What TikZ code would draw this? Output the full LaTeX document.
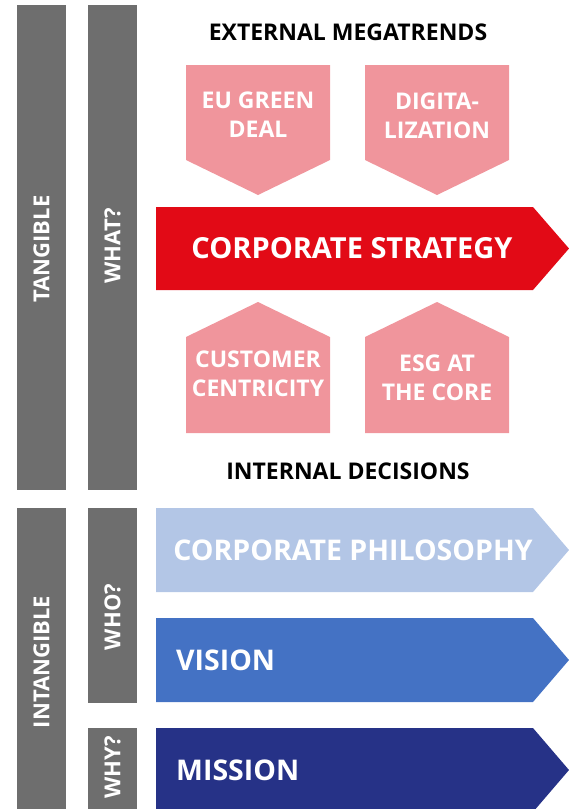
\documentclass[tikz,border=0pt]{standalone}
\usepackage{fontspec}
\setmainfont{Open Sans}

\definecolor{bargray}{HTML}{6E6E6E}
\definecolor{trendpink}{HTML}{F0959C}
\definecolor{stratred}{HTML}{E20A16}
\definecolor{philblue}{HTML}{B3C6E6}
\definecolor{visblue}{HTML}{4472C4}
\definecolor{misblue}{HTML}{263287}

\begin{document}
\begin{tikzpicture}[x=1pt, y=-1pt,
    bar/.style={fill=bargray},
    barlabel/.style={text=white, font=\fontsize{22}{22}\selectfont\bfseries, rotate=90},
    heading/.style={font=\fontsize{23}{23}\selectfont\bfseries},
    trend/.style={fill=trendpink},
    trendlabel/.style={text=white, align=center, font=\fontsize{23}{29}\selectfont\bfseries},
    bigarrow/.style={text=white, font=\fontsize{28.5}{28.5}\selectfont\bfseries}]
  \useasboundingbox (0, 0) rectangle (569, 809);

  % side bars
  \fill[bar] (17, 5) rectangle (66, 490);
  \fill[bar] (88, 5) rectangle (137, 490);
  \fill[bar] (17, 508) rectangle (66, 809);
  \fill[bar] (88, 508) rectangle (137, 703);
  \fill[bar] (88, 728) rectangle (137, 809);
  \node[barlabel] (tangible) at (41.5, 249) {TANGIBLE};
  \node[barlabel] (what) at (112.5, 246) {WHAT?};
  \node[barlabel] (intangible) at (41.5, 662) {INTANGIBLE};
  \node[barlabel] (who) at (112.5, 617) {WHO?};
  \node[barlabel] (why) at (112.5, 767) {WHY?};

  % megatrends from outside
  \node[heading] (external) at (348, 32) {EXTERNAL MEGATRENDS};
  \fill[trend] (186, 65) -- (330, 65) -- (330, 160) -- (258, 195) -- (186, 160) -- cycle;
  \fill[trend] (365, 65) -- (509, 65) -- (509, 160) -- (437, 195) -- (365, 160) -- cycle;
  \node[trendlabel] (green) at (258, 115) {EU GREEN\\DEAL};
  \node[trendlabel] (digital) at (437, 116) {DIGITA-\\LIZATION};

  % strategy
  \fill[stratred] (156, 207) -- (533, 207) -- (569, 248.5) -- (533, 290) -- (156, 290) -- cycle;
  \node[bigarrow, font=\fontsize{29}{29}\selectfont\bfseries] (strategy) at (352, 248) {CORPORATE STRATEGY};

  % decisions from inside
  \fill[trend] (186, 337) -- (258, 302) -- (330, 337) -- (330, 433) -- (186, 433) -- cycle;
  \fill[trend] (365, 337) -- (437, 302) -- (509, 337) -- (509, 433) -- (365, 433) -- cycle;
  \node[trendlabel] (customer) at (258, 374) {CUSTOMER\\CENTRICITY};
  \node[trendlabel] (esg) at (437, 378) {ESG AT\\THE CORE};
  \node[heading] (internal) at (348, 471) {INTERNAL DECISIONS};

  % philosophy, vision, mission
  \fill[philblue] (156, 508) -- (533, 508) -- (569, 550) -- (533, 592) -- (156, 592) -- cycle;
  \fill[visblue] (156, 618) -- (533, 618) -- (569, 660) -- (533, 702) -- (156, 702) -- cycle;
  \fill[misblue] (156, 728) -- (533, 728) -- (569, 770) -- (533, 812) -- (156, 812) -- cycle;
  \node[bigarrow] (philosophy) at (353, 550) {CORPORATE PHILOSOPHY};
  \node[bigarrow, anchor=west, inner sep=0pt] (vision) at (176, 660) {VISION};
  \node[bigarrow, anchor=west, inner sep=0pt] (mission) at (176, 770) {MISSION};
\end{tikzpicture}
\end{document}
